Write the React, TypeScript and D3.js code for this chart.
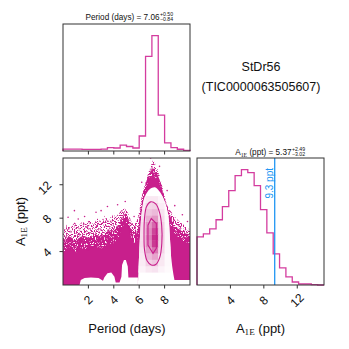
import { useEffect, useRef } from 'react';
import * as d3 from 'd3';

// histogram bin edges (20 bins each, as in a corner plot)
const periodEdges = [0, 0.5, 1, 1.5, 2, 2.5, 3, 3.5, 4, 4.5, 5, 5.5, 6, 6.5, 7, 7.5, 8, 8.5, 9, 9.5, 10];
const periodCounts = [1.7, 1.7, 1.6, 1.4, 1.4, 1.4, 1.7, 2.9, 2.6, 5.1, 3.9, 2.6, 13, 82, 100, 31, 7, 3, 1.5, 0.5];

const ampEdges = [0, 0.76, 1.52, 2.28, 3.04, 3.8, 4.56, 5.32, 6.08, 6.84, 7.6, 8.36, 9.12, 9.88, 10.64, 11.4, 12.16, 12.92, 13.68, 14.44, 15.2];
const ampCounts = [48, 51, 56, 65, 78, 94, 109, 115, 112, 99, 75, 52, 31, 17, 8, 3, 1, 1, 0.3, 0];

const periodTicks = [2, 4, 6, 8];
const ampTicks = [4, 8, 12];
const limitAmp = 9.3;

// scatter cloud envelopes [period, amplitude]
const cloudTop: [number, number][] = [
  [0, 6.6], [0.3, 7.2], [0.6, 6.8], [0.9, 7.5], [1.2, 7.0], [1.5, 7.6], [1.8, 7.3], [2.1, 7.8], [2.4, 7.2],
  [2.7, 8.0], [3.0, 7.6], [3.3, 8.3], [3.6, 7.8], [3.9, 8.4], [4.2, 8.2], [4.5, 8.8], [4.8, 9.2], [5.0, 9.0],
  [5.2, 8.3], [5.4, 7.6], [5.6, 7.2], [5.8, 7.6], [6.0, 8.8], [6.2, 10.6], [6.4, 11.8], [6.6, 12.8], [6.8, 13.8],
  [7.0, 14.6], [7.1, 15.0], [7.3, 14.4], [7.5, 13.6], [7.7, 12.6], [7.9, 11.2], [8.1, 10.0], [8.3, 9.2],
  [8.6, 8.6], [8.9, 8.0], [9.2, 7.6], [9.5, 7.2], [9.8, 6.8], [10, 6.6],
];
const midTop: [number, number][] = [
  [0, 5.4], [0.5, 5.8], [1, 5.3], [1.5, 5.9], [2, 5.6], [2.5, 6.1], [3, 5.8], [3.5, 6.4], [4, 6.5], [4.4, 7.2],
  [4.7, 8.2], [4.9, 8.6], [5.1, 8.2], [5.3, 6.8], [5.6, 6.2], [5.9, 6.6], [6.1, 9.0], [6.3, 11.0], [6.6, 12.6],
  [6.9, 13.6], [7.1, 14.0], [7.4, 13.4], [7.7, 12.2], [8.0, 10.4], [8.3, 8.8], [8.6, 7.6], [9.0, 6.8], [9.5, 6.3], [10, 6.0],
];
const denseTop: [number, number][] = [
  [0, 4.0], [0.5, 4.3], [1, 3.9], [1.5, 4.4], [2, 4.1], [2.5, 4.6], [3, 4.3], [3.5, 4.9], [4, 5.0], [4.4, 5.8],
  [4.7, 7.0], [4.9, 7.6], [5.1, 7.2], [5.3, 5.8], [5.6, 5.0], [5.9, 5.4], [6.1, 8.0], [6.3, 10.0], [6.6, 11.8],
  [6.9, 12.8], [7.1, 13.2], [7.4, 12.6], [7.7, 11.4], [8.0, 9.6], [8.3, 7.8], [8.6, 6.6], [9.0, 5.8], [9.5, 5.2], [10, 5.0],
];
const outliers: [number, number][] = [
  [0.4, 8.1], [0.9, 8.9], [1.2, 7.9], [1.7, 8.2], [2.6, 8.7], [3.0, 8.9], [3.5, 9.4], [4.3, 9.6], [4.9, 10.0],
  [5.6, 8.2], [6.2, 12.3], [6.9, 15.2], [7.6, 14.2], [8.2, 11.3], [8.8, 9.5], [9.4, 8.4], [9.8, 7.6],
];

// empty (white) regions under the lowest contour level
const bottomHole: [number, number][] = [
  [1.3, 0], [1.4, 0.6], [1.7, 0.85], [2.2, 0.9], [2.8, 0.85], [3.15, 0.5], [3.25, 0.9], [3.5, 1.4], [3.8, 1.5],
  [4.05, 1.0], [4.15, 0.3], [4.45, 0.3], [4.6, 1.0], [4.65, 2.4], [4.8, 3.0], [4.95, 3.0], [5.1, 2.2], [5.15, 0.9],
  [5.9, 0.9], [5.9, 0],
];
const rightHole: [number, number][] = [[8.6, 0], [8.6, 0.6], [10, 0.6], [10, 0]];
const bell: [number, number][] = [
  [5.9, 0], [5.95, 2], [6.02, 4.5], [6.1, 6.8], [6.2, 8.7], [6.45, 10.6], [6.85, 11.5], [7.25, 11.7], [7.65, 11.1],
  [8.0, 10.0], [8.28, 8.4], [8.42, 5.6], [8.55, 2.8], [8.75, 0.8], [8.85, 0],
];

// 2d density cells inside the contours
const densPeriodEdges = [5.5, 6, 6.5, 7, 7.5, 8, 8.5];
const densAmpEdges = [1.52, 2.28, 3.04, 3.8, 4.56, 5.32, 6.08, 6.84, 7.6, 8.36, 9.12, 9.88, 10.64];
const density = [
  [0.02, 0.05, 0.1, 0.12, 0.05, 0.02],
  [0.03, 0.08, 0.2, 0.25, 0.1, 0.03],
  [0.03, 0.1, 0.3, 0.4, 0.12, 0.03],
  [0.04, 0.12, 0.4, 0.6, 0.18, 0.04],
  [0.04, 0.15, 0.5, 0.85, 0.2, 0.04],
  [0.04, 0.15, 0.55, 0.9, 0.22, 0.04],
  [0.04, 0.15, 0.5, 0.8, 0.22, 0.04],
  [0.03, 0.15, 0.45, 0.65, 0.2, 0.03],
  [0.03, 0.12, 0.35, 0.45, 0.15, 0.03],
  [0.02, 0.1, 0.25, 0.3, 0.12, 0.02],
  [0.02, 0.08, 0.18, 0.2, 0.08, 0.02],
  [0.02, 0.05, 0.1, 0.1, 0.05, 0.02],
];
const outerContour: [number, number][] = [
  [6.38, 6.0], [6.42, 8.0], [6.58, 9.4], [6.9, 9.95], [7.3, 9.7], [7.6, 8.7], [7.77, 7.1], [7.78, 5.0],
  [7.62, 3.3], [7.3, 2.45], [6.95, 2.4], [6.62, 2.9], [6.42, 4.2],
];
const innerContour: [number, number][] = [
  [6.95, 7.96], [6.69, 7.16], [6.69, 4.78], [7.09, 3.78], [7.35, 4.38], [7.35, 7.36],
];

const MAG = '#c81f8c';
const HIST = '#d43c9f';
const SPINE = '#333333';
const SANS = '"Liberation Sans", Arial, Helvetica, sans-serif';
const SERIF = '"Liberation Serif", "DejaVu Serif", serif';

const App = () => {
  const ref = useRef<SVGSVGElement>(null);

  useEffect(() => {
    if (!ref.current) return;
    const svg = d3.select(ref.current);
    svg.selectAll('*').remove();

    const xP = d3.scaleLinear().domain([0, 10]).range([63, 190]);
    const yA = d3.scaleLinear().domain([0, 15.2]).range([285, 158]);
    const xA = d3.scaleLinear().domain([0, 15.2]).range([197, 324]);
    const yTop = d3.scaleLinear().domain([0, d3.max(periodCounts)! * 1.1]).range([151, 24]);
    const ySide = d3.scaleLinear().domain([0, d3.max(ampCounts)! * 1.1]).range([285, 158]);

    const defs = svg.append('defs');
    defs.append('clipPath').attr('id', 'mainClip')
      .append('rect').attr('x', 63).attr('y', 158).attr('width', 127).attr('height', 127);
    const mkSpeck = (id: string, slope: number, off: number) => {
      const f = defs.append('filter').attr('id', id).attr('x', 0).attr('y', 0).attr('width', 1).attr('height', 1);
      f.append('feTurbulence').attr('type', 'fractalNoise').attr('baseFrequency', 0.9).attr('numOctaves', 1).attr('seed', 3).attr('result', 'n');
      f.append('feColorMatrix').attr('in', 'n').attr('type', 'matrix')
        .attr('values', `0 0 0 0 0  0 0 0 0 0  0 0 0 0 0  ${slope} 0 0 0 ${off}`).attr('result', 'm');
      f.append('feComposite').attr('in', 'SourceGraphic').attr('in2', 'm').attr('operator', 'in');
    };
    mkSpeck('speckLight', 10, -4.8);
    mkSpeck('speckMid', 10, -3.2);

    // ---------- histograms ----------
    const stepPts = (edges: number[], counts: number[]) => {
      const pts: [number, number][] = [[edges[0], 0]];
      counts.forEach((c, i) => { pts.push([edges[i], c]); pts.push([edges[i + 1], c]); });
      pts.push([edges[edges.length - 1], 0]);
      return pts;
    };
    svg.append('path')
      .attr('d', d3.line<[number, number]>().x(d => xP(d[0])).y(d => yTop(d[1]))(stepPts(periodEdges, periodCounts)))
      .attr('fill', 'none').attr('stroke', HIST).attr('stroke-width', 1.3);
    svg.append('path')
      .attr('d', d3.line<[number, number]>().x(d => xA(d[0])).y(d => ySide(d[1]))(stepPts(ampEdges, ampCounts)))
      .attr('fill', 'none').attr('stroke', HIST).attr('stroke-width', 1.3);
    svg.append('line')
      .attr('x1', xA(limitAmp)).attr('x2', xA(limitAmp)).attr('y1', 158).attr('y2', 285)
      .attr('stroke', '#2196f3').attr('stroke-width', 1.3);
    svg.append('text')
      .attr('transform', `translate(${xA(limitAmp) - 2},168) rotate(-90)`)
      .attr('text-anchor', 'end').attr('font-family', SANS).attr('font-size', 10).attr('fill', '#2196f3')
      .text(`${limitAmp} ppt`);

    // ---------- 2d panel ----------
    const g = svg.append('g').attr('clip-path', 'url(#mainClip)');
    const area = d3.area<[number, number]>().x(d => xP(d[0])).y0(285).y1(d => yA(d[1]));
    g.append('path').attr('d', area(cloudTop)).attr('fill', MAG).attr('filter', 'url(#speckLight)');
    g.append('path').attr('d', area(midTop)).attr('fill', MAG).attr('filter', 'url(#speckMid)');
    g.append('path').attr('d', area(denseTop)).attr('fill', MAG);
    g.selectAll('circle.out').data(outliers).join('circle').attr('class', 'out')
      .attr('cx', d => xP(d[0])).attr('cy', d => yA(d[1])).attr('r', 0.8).attr('fill', MAG);

    const poly = d3.line<[number, number]>().x(d => xP(d[0])).y(d => yA(d[1]));
    g.append('path').attr('d', poly(bottomHole) + 'Z').attr('fill', '#fff');
    g.append('path').attr('d', poly(rightHole) + 'Z').attr('fill', '#fff');
    const bellPath = poly.curve(d3.curveCatmullRom)(bell) + 'Z';
    g.append('path').attr('d', bellPath).attr('fill', '#fff');
    poly.curve(d3.curveLinear);

    defs.append('clipPath').attr('id', 'bellClip').append('path').attr('d', bellPath);
    const color = d3.interpolateRgb('#ffffff', '#c0177f');
    const cells: { x0: number; x1: number; y0: number; y1: number; v: number }[] = [];
    density.forEach((row, r) => row.forEach((v, c) => cells.push({
      x0: densPeriodEdges[c], x1: densPeriodEdges[c + 1], y0: densAmpEdges[r], y1: densAmpEdges[r + 1], v,
    })));
    g.append('g').attr('clip-path', 'url(#bellClip)')
      .selectAll('rect').data(cells).join('rect')
      .attr('x', d => xP(d.x0)).attr('width', d => xP(d.x1) - xP(d.x0) + 0.3)
      .attr('y', d => yA(d.y1)).attr('height', d => yA(d.y0) - yA(d.y1) + 0.3)
      .attr('fill', d => color(d.v));

    const closed = d3.line<[number, number]>().x(d => xP(d[0])).y(d => yA(d[1]));
    g.append('path').attr('d', closed.curve(d3.curveCatmullRomClosed)(outerContour))
      .attr('fill', 'none').attr('stroke', MAG).attr('stroke-width', 1.1);
    g.append('path').attr('d', closed.curve(d3.curveLinearClosed)(innerContour))
      .attr('fill', 'none').attr('stroke', MAG).attr('stroke-width', 1.1);

    // ---------- spines & ticks ----------
    [[63, 24], [63, 158], [197, 158]].forEach(([x, y]) => {
      svg.append('rect').attr('x', x).attr('y', y).attr('width', 127).attr('height', 127)
        .attr('fill', 'none').attr('stroke', SPINE).attr('stroke-width', 1);
    });
    const tickAttrs = (s: d3.Selection<SVGLineElement, number, SVGSVGElement, unknown>) =>
      s.attr('stroke', SPINE).attr('stroke-width', 1);
    svg.selectAll('line.tt').data(periodTicks).join('line').attr('class', 'tt')
      .attr('x1', d => xP(d)).attr('x2', d => xP(d)).attr('y1', 151).attr('y2', 154.5).call(tickAttrs);
    svg.selectAll('line.bx').data(periodTicks).join('line').attr('class', 'bx')
      .attr('x1', d => xP(d)).attr('x2', d => xP(d)).attr('y1', 285).attr('y2', 288.5).call(tickAttrs);
    svg.selectAll('line.by').data(ampTicks).join('line').attr('class', 'by')
      .attr('x1', 63).attr('x2', 59.5).attr('y1', d => yA(d)).attr('y2', d => yA(d)).call(tickAttrs);
    svg.selectAll('line.sx').data(ampTicks).join('line').attr('class', 'sx')
      .attr('x1', d => xA(d)).attr('x2', d => xA(d)).attr('y1', 285).attr('y2', 288.5).call(tickAttrs);

    const tickLabel = (x: number, y: number, t: number, anchor: string) =>
      svg.append('text').attr('transform', `translate(${x},${y}) rotate(-45)`)
        .attr('text-anchor', anchor).attr('dominant-baseline', 'central')
        .attr('font-family', SANS).attr('font-size', 12).attr('fill', '#111').text(t);
    periodTicks.forEach(t => tickLabel(xP(t), 300, t, 'middle'));
    ampTicks.forEach(t => tickLabel(xA(t), 300.5, t, 'middle'));
    ampTicks.forEach(t => tickLabel(49.5, yA(t) - 1.5, t, 'end'));

    // ---------- labels ----------
    const label = svg.append('g').attr('font-family', SANS).attr('fill', '#111');
    label.append('text').attr('x', 127).attr('y', 333).attr('text-anchor', 'middle').attr('font-size', 13)
      .text('Period (days)');
    const ampLabel = (t: d3.Selection<SVGTextElement, unknown, null, undefined>, size: number) => {
      t.append('tspan').text('A');
      t.append('tspan').attr('font-family', SERIF).attr('font-size', size * 0.7).attr('dy', size * 0.18).text('1E');
      t.append('tspan').attr('dy', -size * 0.18).text(' (ppt)');
    };
    const bl = label.append('text').attr('x', 260.5).attr('y', 333).attr('text-anchor', 'middle').attr('font-size', 13);
    ampLabel(bl as any, 13);
    const ll = label.append('text').attr('transform', 'translate(25,221.5) rotate(-90)')
      .attr('text-anchor', 'middle').attr('font-size', 13);
    ampLabel(ll as any, 13);

    // panel titles with stacked errors
    const title = (x: number, y: number, build: (t: any) => void, up: string, lo: string) => {
      const t = label.append('text').attr('x', x).attr('y', y).attr('text-anchor', 'end').attr('font-size', 8.2);
      build(t);
      label.append('text').attr('x', x + 0.5).attr('y', y - 4).attr('font-size', 5.2).text(up);
      label.append('text').attr('x', x + 0.5).attr('y', y + 1.2).attr('font-size', 5.2).text(lo);
    };
    title(159.5, 20, t => t.text('Period (days) = 7.06'), '+0.50', '\u22120.84');
    title(291.5, 155, t => {
      t.append('tspan').text('A');
      t.append('tspan').attr('font-family', SERIF).attr('font-size', 5.8).attr('dy', 1.5).text('1E');
      t.append('tspan').attr('dy', -1.5).text(' (ppt) = 5.37');
    }, '+2.49', '\u22123.02');

    label.append('text').attr('x', 261).attr('y', 71).attr('text-anchor', 'middle').attr('font-size', 12.5).text('StDr56');
    label.append('text').attr('x', 261).attr('y', 91).attr('text-anchor', 'middle').attr('font-size', 12.5)
      .text('(TIC0000063505607)');
  }, []);

  return (
    <div style={{ position: 'fixed', left: 0, top: 0, width: 349, height: 349, background: '#fff' }}>
      <svg ref={ref} width={349} height={349} viewBox="0 0 349 349" style={{ display: 'block' }} />
    </div>
  );
};

export default App;
